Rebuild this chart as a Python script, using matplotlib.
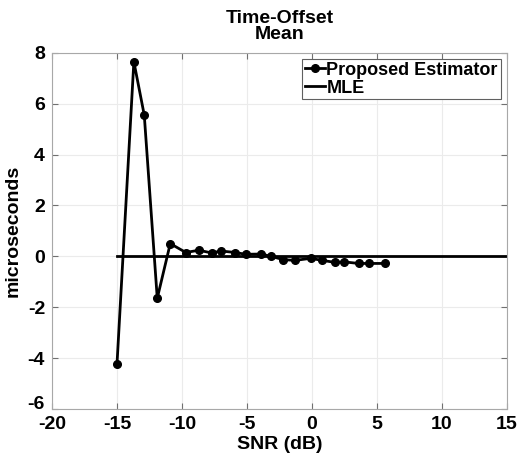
import matplotlib
matplotlib.use("Agg")
import matplotlib.pyplot as plt

plt.rcParams['font.family'] = ['Liberation Sans', 'DejaVu Sans']
plt.rcParams['font.weight'] = 'bold'
plt.rcParams['axes.unicode_minus'] = False

snr = [-15.0, -13.7, -12.9, -11.9, -10.9, -9.7, -8.7, -7.7, -7.0, -5.9, -5.1,
       -3.9, -3.15, -2.2, -1.3, -0.1, 0.8, 1.8, 2.5, 3.6, 4.4, 5.6]
proposed = [-4.25, 7.65, 5.55, -1.65, 0.5, 0.15, 0.24, 0.13, 0.21, 0.15, 0.08,
            0.09, 0.0, -0.13, -0.16, -0.08, -0.16, -0.24, -0.22, -0.28, -0.28, -0.28]
mle_snr = [-15, 15]
mle = [0, 0]

fig = plt.figure(figsize=(5.21, 4.59), dpi=100)
ax = fig.add_axes([0.0998, 0.109, 0.873, 0.776])

ax.plot(snr, proposed, '-o', color='black', lw=2, ms=5.5, label='Proposed Estimator')
ax.plot(mle_snr, mle, '-', color='black', lw=2, label='MLE')

ax.set_xlim(-20, 15)
ax.set_ylim(-6, 8)
ax.set_xticks(range(-20, 16, 5))
ax.set_yticks(range(-6, 9, 2))
ax.grid(True, color='#ebebeb', lw=0.8)
ax.set_axisbelow(True)
for s in ax.spines.values():
    s.set_color('#a8a8a8')
ax.tick_params(direction='in', length=4, color='#707070', labelsize=14,
               top=True, right=True)
ax.tick_params(axis='x', pad=5)
ax.tick_params(axis='y', pad=5)
for lab in ax.get_xticklabels() + ax.get_yticklabels():
    lab.set_fontweight('bold')
# lowest y label sits on the axis line, as in the original
ax.get_yticklabels()[0].set_va('baseline')

ax.set_xlabel('SNR (dB)', fontsize=14, fontweight='bold', labelpad=2)
ax.set_ylabel('microseconds', fontsize=14, fontweight='bold', labelpad=4)
ax.set_title('Time-Offset\nMean', fontsize=14, fontweight='bold', linespacing=0.95, pad=10)

leg = ax.legend(loc='upper right', prop={'weight': 'bold', 'size': 13},
                frameon=True, fancybox=False, edgecolor='#606060', framealpha=1,
                handlelength=1.1, handletextpad=0.1, borderpad=0.15, labelspacing=0.05,
                borderaxespad=0.35)
leg.get_frame().set_linewidth(0.8)

fig.savefig('out.png', dpi=100)
